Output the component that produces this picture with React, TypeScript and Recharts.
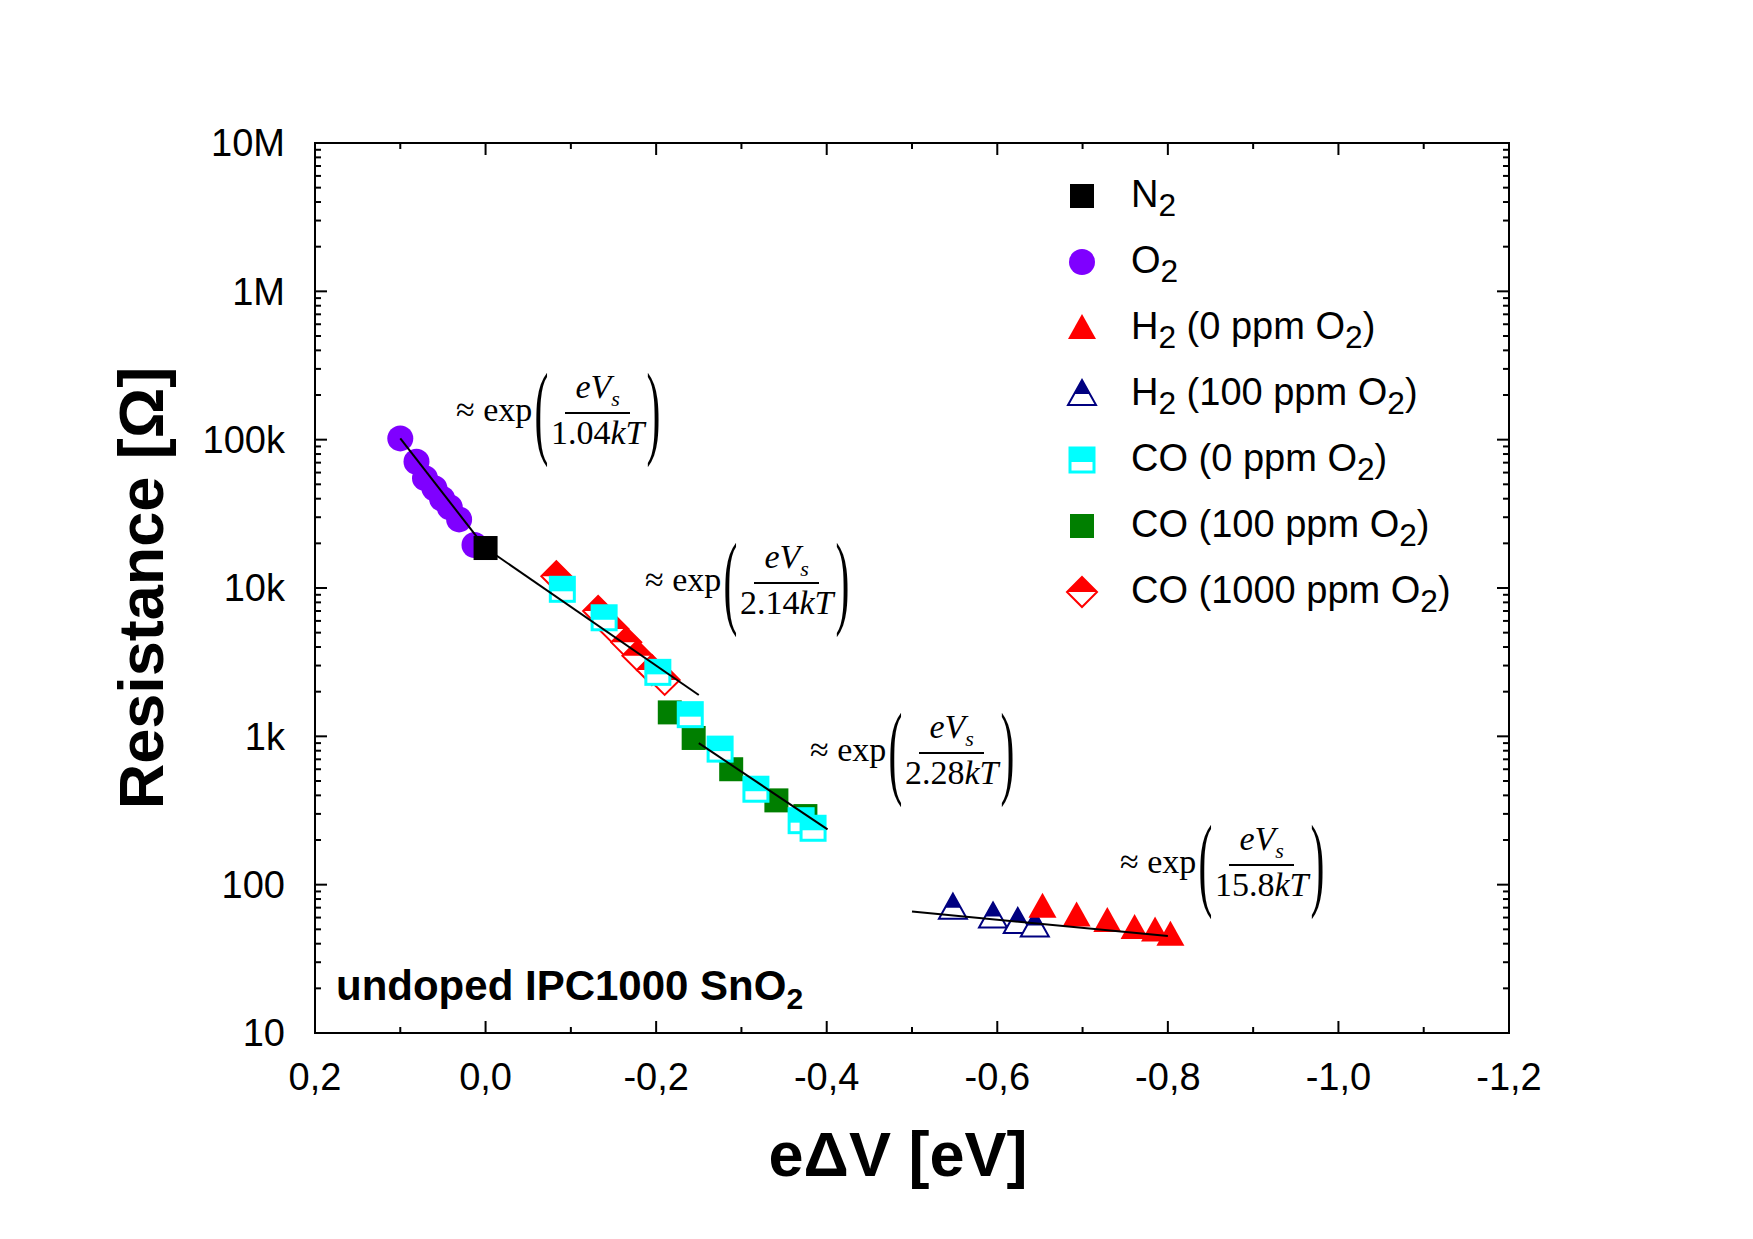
import { ComposedChart, Scatter, XAxis, YAxis } from 'recharts';

// eΔV [eV], resistance [Ohm]
const n2 = [{ x: 0.0, y: 18600 }];
const o2 = [
  { x: 0.1, y: 102000 }, { x: 0.081, y: 71000 }, { x: 0.071, y: 55000 }, { x: 0.06, y: 47000 },
  { x: 0.051, y: 40000 }, { x: 0.042, y: 35000 }, { x: 0.031, y: 29000 }, { x: 0.013, y: 19500 },
];
const h2Zero = [
  { x: -0.653, y: 71 }, { x: -0.693, y: 62 }, { x: -0.729, y: 57 },
  { x: -0.761, y: 51 }, { x: -0.785, y: 49 }, { x: -0.803, y: 46 },
];
const h2Hundred = [
  { x: -0.548, y: 70 }, { x: -0.595, y: 61 }, { x: -0.624, y: 56 }, { x: -0.644, y: 53 },
];
const coZero = [
  { x: -0.09, y: 9800 }, { x: -0.139, y: 6300 }, { x: -0.202, y: 2700 }, { x: -0.24, y: 1400 },
  { x: -0.275, y: 820 }, { x: -0.317, y: 440 }, { x: -0.37, y: 270 }, { x: -0.384, y: 240 },
];
const coHundred = [
  { x: -0.216, y: 1450 }, { x: -0.244, y: 975 }, { x: -0.288, y: 600 }, { x: -0.341, y: 370 }, { x: -0.375, y: 290 },
];
const coThousand = [
  { x: -0.083, y: 12000 }, { x: -0.132, y: 7000 }, { x: -0.15, y: 5300 }, { x: -0.165, y: 4300 },
  { x: -0.178, y: 3500 }, { x: -0.195, y: 2800 }, { x: -0.21, y: 2400 },
];
const fit1 = [{ x: 0.1, y: 102000 }, { x: 0.0, y: 18600 }];
const fit2 = [{ x: 0.0, y: 18600 }, { x: -0.25, y: 1900 }];
const fit3 = [{ x: -0.25, y: 900 }, { x: -0.401, y: 236 }];
const fit4 = [{ x: -0.5, y: 66 }, { x: -0.8, y: 45 }];

const xTicks = [0.2, 0, -0.2, -0.4, -0.6, -0.8, -1.0, -1.2];
const yTicks = [10, 100, 1000, 10000, 100000, 1000000, 10000000];
const yLabels = ['10', '100', '1k', '10k', '100k', '1M', '10M'];

const FONT = '"Liberation Sans", Arial, sans-serif';
const S = 12;

// plot frame (matches chart margins below)
const PL = 315, PR = 1509, PT = 143, PB = 1033;
const xPix = (v: number) => PL + ((0.2 - v) / 1.4) * (PR - PL);
const yPix = (v: number) => PB - ((Math.log10(v) - 1) / 6) * (PB - PT);

const fmtX = (v: number) => (Math.abs(v) < 1e-9 ? '0,0' : v.toFixed(1).replace('.', ','));
const fmtY = (v: number) => yLabels[yTicks.findIndex((t) => Math.abs(t - v) / t < 1e-6)] ?? '';

const Square = ({ cx, cy }: any) => <rect x={cx - S} y={cy - S} width={2 * S} height={2 * S} fill="#000" />;
const GreenSquare = ({ cx, cy }: any) => <rect x={cx - S} y={cy - S} width={2 * S} height={2 * S} fill="#007f00" />;
const Circle = ({ cx, cy }: any) => <circle cx={cx} cy={cy} r={S + 1} fill="#7f00ff" />;
const Tri = ({ cx, cy }: any) => (
  <polygon points={`${cx},${cy - S - 2} ${cx + S + 2},${cy + S - 1} ${cx - S - 2},${cy + S - 1}`} fill="#ff0000" />
);
const HalfTri = ({ cx, cy }: any) => (
  <g>
    <polygon points={`${cx},${cy - S - 2} ${cx + S + 2},${cy + S - 1} ${cx - S - 2},${cy + S - 1}`} fill="#fff" stroke="#000080" strokeWidth={2} />
    <polygon points={`${cx},${cy - S - 2} ${cx + (S + 2) / 2 + 1},${cy} ${cx - (S + 2) / 2 - 1},${cy}`} fill="#000080" />
  </g>
);
const HalfSq = ({ cx, cy }: any) => (
  <g>
    <rect x={cx - S} y={cy - S} width={2 * S} height={2 * S} fill="#fff" stroke="#00ffff" strokeWidth={3} />
    <rect x={cx - S} y={cy - S} width={2 * S} height={S + 2} fill="#00ffff" />
  </g>
);
const HalfDia = ({ cx, cy }: any) => (
  <g>
    <polygon points={`${cx},${cy - S - 3} ${cx + S + 3},${cy} ${cx},${cy + S + 3} ${cx - S - 3},${cy}`} fill="#fff" stroke="#ff0000" strokeWidth={2} />
    <polygon points={`${cx},${cy - S - 3} ${cx + S + 3},${cy} ${cx - S - 3},${cy}`} fill="#ff0000" />
  </g>
);
const Empty = () => <g />;

const Frac = ({ left, top, den }: { left: number; top: number; den: string }) => (
  <div style={{ position: 'absolute', left, top, display: 'flex', alignItems: 'center', fontFamily: '"Liberation Serif", serif', fontSize: 34 }}>
    <span>≈ exp</span>
    <span style={{ fontSize: 104, fontWeight: 100, transform: 'scaleX(0.4)', lineHeight: 1, margin: '0 -8px' }}>(</span>
    <span style={{ display: 'flex', flexDirection: 'column', alignItems: 'center' }}>
      <span style={{ fontStyle: 'italic', borderBottom: '2px solid #000', padding: '0 10px' }}>
        eV<sub style={{ fontSize: 22 }}>s</sub>
      </span>
      <span>
        {den}
        <i>kT</i>
      </span>
    </span>
    <span style={{ fontSize: 104, fontWeight: 100, transform: 'scaleX(0.4)', lineHeight: 1, margin: '0 -8px' }}>)</span>
  </div>
);

const legend: { label: any; Shape: any }[] = [
  { label: <>N<sub>2</sub></>, Shape: Square },
  { label: <>O<sub>2</sub></>, Shape: Circle },
  { label: <>H<sub>2</sub> (0 ppm O<sub>2</sub>)</>, Shape: Tri },
  { label: <>H<sub>2</sub> (100 ppm O<sub>2</sub>)</>, Shape: HalfTri },
  { label: <>CO (0 ppm O<sub>2</sub>)</>, Shape: HalfSq },
  { label: <>CO (100 ppm O<sub>2</sub>)</>, Shape: GreenSquare },
  { label: <>CO (1000 ppm O<sub>2</sub>)</>, Shape: HalfDia },
];

const minorX: number[] = [];
for (let i = 0; i <= 14; i++) minorX.push(0.2 - i * 0.1);
const minorY: { v: number; major: boolean }[] = [];
for (let d = 1; d < 7; d++) for (let m = 1; m <= 9; m++) minorY.push({ v: m * 10 ** d, major: m === 1 });

export default function App() {
  const fit = { stroke: '#000', strokeWidth: 2 };
  return (
    <div style={{ position: 'absolute', left: 0, top: 0, width: 1753, height: 1239, background: '#fff', fontFamily: FONT }}>
      <ComposedChart width={1753} height={1239} margin={{ top: PT, right: 1753 - PR, bottom: 1239 - PB - 60, left: PL - 100 }}>
        <XAxis type="number" dataKey="x" xAxisId="b" domain={[-1.2, 0.2]} reversed ticks={xTicks} tickFormatter={fmtX}
          height={60} tickLine={false} tickSize={0} tickMargin={30} allowDataOverflow
          stroke="#000" axisLine={false} tick={{ fontSize: 38, fill: '#000', fontFamily: FONT }} />
        <YAxis type="number" dataKey="y" yAxisId="l" scale="log" domain={[10, 10000000]} ticks={yTicks} tickFormatter={fmtY}
          width={100} tickLine={false} tickSize={0} tickMargin={30} allowDataOverflow
          stroke="#000" axisLine={false} tick={{ fontSize: 38, fill: '#000', fontFamily: FONT }} />
        <Scatter data={o2} xAxisId="b" yAxisId="l" shape={Circle} isAnimationActive={false} />
        <Scatter data={coThousand} xAxisId="b" yAxisId="l" shape={HalfDia} isAnimationActive={false} />
        <Scatter data={coHundred} xAxisId="b" yAxisId="l" shape={GreenSquare} isAnimationActive={false} />
        <Scatter data={coZero} xAxisId="b" yAxisId="l" shape={HalfSq} isAnimationActive={false} />
        <Scatter data={h2Hundred} xAxisId="b" yAxisId="l" shape={HalfTri} isAnimationActive={false} />
        <Scatter data={h2Zero} xAxisId="b" yAxisId="l" shape={Tri} isAnimationActive={false} />
        <Scatter data={n2} xAxisId="b" yAxisId="l" shape={Square} isAnimationActive={false} />
        {[fit1, fit2, fit3, fit4].map((d, i) => (
          <Scatter key={'f' + i} data={d} xAxisId="b" yAxisId="l" line={fit} shape={Empty} isAnimationActive={false} />
        ))}
      </ComposedChart>

      <svg style={{ position: 'absolute', left: 0, top: 0 }} width={1753} height={1239} pointerEvents="none">
        <rect x={PL} y={PT} width={PR - PL} height={PB - PT} fill="none" stroke="#000" strokeWidth={2} />
        {minorX.map((v, i) => {
          const len = i % 2 === 0 ? 12 : 6;
          const x = xPix(v);
          return (
            <g key={'x' + i} stroke="#000" strokeWidth={2}>
              <line x1={x} x2={x} y1={PB} y2={PB - len} />
              <line x1={x} x2={x} y1={PT} y2={PT + len} />
            </g>
          );
        })}
        {minorY.concat([{ v: 1e7, major: true }]).map((t, i) => {
          const len = t.major ? 12 : 6;
          const y = yPix(t.v);
          return (
            <g key={'y' + i} stroke="#000" strokeWidth={2}>
              <line x1={PL} x2={PL + len} y1={y} y2={y} />
              <line x1={PR} x2={PR - len} y1={y} y2={y} />
            </g>
          );
        })}
        {legend.map((l, i) => (
          <l.Shape key={i} cx={1082} cy={196 + i * 66} />
        ))}
      </svg>
      {legend.map((l, i) => (
        <div key={i} style={{ position: 'absolute', left: 1131, top: 172 + i * 66, fontSize: 38, lineHeight: '44px', whiteSpace: 'nowrap' }}>
          {l.label}
        </div>
      ))}

      <Frac left={456} top={358} den="1.04" />
      <Frac left={645} top={528} den="2.14" />
      <Frac left={810} top={698} den="2.28" />
      <Frac left={1120} top={810} den="15.8" />

      <div style={{ position: 'absolute', left: 336, top: 962, fontSize: 42, fontWeight: 'bold', whiteSpace: 'nowrap' }}>
        undoped IPC1000 SnO<sub style={{ fontSize: 30 }}>2</sub>
      </div>
      <div style={{ position: 'absolute', left: 898, top: 1118, transform: 'translateX(-50%)', fontSize: 63, fontWeight: 'bold', whiteSpace: 'nowrap' }}>
        eΔV [eV]
      </div>
      <div style={{ position: 'absolute', left: 141, top: 588, transform: 'translate(-50%, -50%) rotate(-90deg)', fontSize: 63, fontWeight: 'bold', whiteSpace: 'nowrap' }}>
        Resistance [Ω]
      </div>
    </div>
  );
}
